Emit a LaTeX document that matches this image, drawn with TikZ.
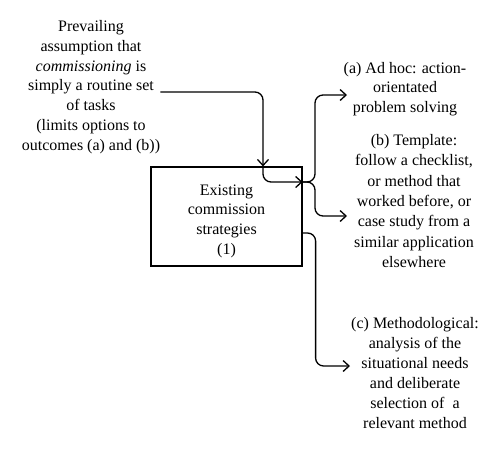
\documentclass[tikz,border=0pt]{standalone}
\usepackage{fontspec}
\setmainfont{Liberation Serif}
\usetikzlibrary{arrows.meta}

\begin{document}
\begin{tikzpicture}[x=1pt,y=-1pt,
    txt/.style={align=center,inner sep=0pt,font=\fontsize{16}{19.8}\selectfont},
    link/.style={line width=1.3pt,rounded corners=8pt,-{Straight Barb[length=6pt,width=11pt]}}]
\useasboundingbox (0,0) rectangle (500,451);
\node[txt] (assumption) at (91,87) {Prevailing\\assumption that\\\textit{commissioning} is\\simply a routine set\\of tasks\\(limits options to\\outcomes (a) and (b))};
\node[txt,draw,line width=1.2pt,minimum width=151pt,minimum height=99pt] (existing) at (226.5,216.5) {\rule{0pt}{20pt}Existing\\commission\\strategies\\(1)};
\node[txt] (adhoc) at (405,89) {(a) Ad hoc: action-\\orientated\\problem solving};
\node[txt,font=\fontsize{16}{20.3}\selectfont] (template) at (414,201) {(b) Template:\\follow a checklist,\\or method that\\worked before, or\\case study from a\\similar application\\elsewhere};
\node[txt,font=\fontsize{16}{20}\selectfont] (method) at (415,373) {(c) Methodological:\\analysis of the\\situational needs\\and deliberate\\selection of~ a\\relevant method};
\coordinate (split) at (315,182);
\coordinate (tipA) at (347,95);
\coordinate (tipB) at (347,216);
\coordinate (tipC) at (350,366);
\draw[link] ([yshift=-5pt]assumption.east) -| ([xshift=36.5pt]existing.north);
\draw[link] ([xshift=36.5pt]existing.north) |- ([yshift=34.5pt]existing.east);
\draw[link] ([yshift=34.5pt]existing.east) -- (split) |- (tipA);
\draw[link] ([yshift=34.5pt]existing.east) -- (split) |- (tipB);
\draw[link] ([yshift=-16.5pt]existing.east) -- ++(13,0) |- (tipC);
\end{tikzpicture}
\end{document}
